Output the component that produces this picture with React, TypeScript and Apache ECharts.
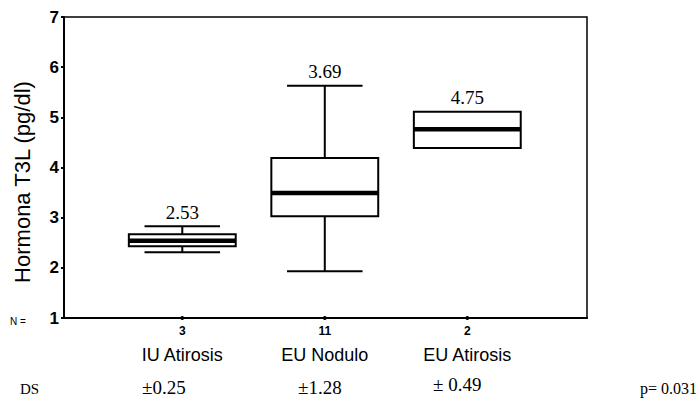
import React, { useEffect, useRef } from "react";
import * as echarts from "echarts";

const categories = ["IU Atirosis", "EU Nodulo", "EU Atirosis"];
const positions = [1, 2, 3];
const mins = [2.31, 1.93, 4.39];
const q1s = [2.43, 3.03, 4.39];
const medians = [2.54, 3.49, 4.76];
const q3s = [2.67, 4.19, 5.11];
const maxs = [2.83, 5.63, 5.11];
const meanLabels = ["2.53", "3.69", "4.75"];
const counts = ["3", "11", "2"];
const sdLabels = ["±0.25", "±1.28", "± 0.49"];
const pValue = "p= 0.031";
const yTicks = [1, 7];
const yTitle = "Hormona T3L (pg/dl)";

const SANS = "Liberation Sans, Arial, sans-serif";
const SERIF = "Liberation Serif, Times New Roman, serif";

export default function App() {
  const ref = useRef<HTMLDivElement>(null);
  useEffect(() => {
    if (!ref.current) return;
    const chart = echarts.init(ref.current, null, { renderer: "svg" });
    const data = positions.map((p, i) => [p, mins[i], q1s[i], medians[i], q3s[i], maxs[i]]);
    const renderItem = (params: any, api: any) => {
      const i = params.dataIndex;
      const x = api.value(0);
      const c = (v: number) => api.coord([x, v]);
      const halfBox = api.size([0.375, 0])[0];
      const halfCap = api.size([0.265, 0])[0];
      const pMin = c(api.value(1));
      const pQ1 = c(api.value(2));
      const pMed = c(api.value(3));
      const pQ3 = c(api.value(4));
      const pMax = c(api.value(5));
      const base = c(yTicks[0]);
      const cx = pMed[0];
      const stroke = { stroke: "#000", lineWidth: 2, fill: "none" };
      const children: any[] = [];
      if (pMax[1] < pQ3[1] - 0.5) {
        children.push({ type: "line", shape: { x1: cx, y1: pMax[1], x2: cx, y2: pQ3[1] }, style: stroke });
        children.push({ type: "line", shape: { x1: cx - halfCap, y1: pMax[1], x2: cx + halfCap, y2: pMax[1] }, style: stroke });
      }
      if (pMin[1] > pQ1[1] + 0.5) {
        children.push({ type: "line", shape: { x1: cx, y1: pQ1[1], x2: cx, y2: pMin[1] }, style: stroke });
        children.push({ type: "line", shape: { x1: cx - halfCap, y1: pMin[1], x2: cx + halfCap, y2: pMin[1] }, style: stroke });
      }
      children.push({
        type: "rect",
        shape: { x: cx - halfBox, y: pQ3[1], width: halfBox * 2, height: pQ1[1] - pQ3[1] },
        style: { stroke: "#000", lineWidth: 2, fill: "#fff" },
      });
      children.push({
        type: "line",
        shape: { x1: cx - halfBox, y1: pMed[1], x2: cx + halfBox, y2: pMed[1] },
        style: { stroke: "#000", lineWidth: 4.5 },
      });
      children.push({
        type: "text",
        style: {
          text: meanLabels[i], x: cx, y: pMax[1] - 14, align: "center", verticalAlign: "middle",
          font: "19px " + SERIF, fill: "#000",
        },
      });
      children.push({ type: "circle", shape: { cx, cy: base[1], r: 2 }, style: { fill: "#000" } });
      children.push({
        type: "text",
        style: {
          text: counts[i], x: cx, y: base[1] + 13, align: "center", verticalAlign: "middle",
          font: "bold 12px " + SANS, fill: "#000",
        },
      });
      children.push({
        type: "text",
        style: {
          text: categories[i], x: cx, y: base[1] + 37, align: "center", verticalAlign: "middle",
          font: "18px " + SANS, fill: "#000",
        },
      });
      return { type: "group", children };
    };
    chart.setOption({
      animation: false,
      grid: { left: 64, right: 113, top: 17, bottom: 82, show: true, borderColor: "#000", borderWidth: 1.5 },
      xAxis: {
        type: "value", min: 0.17, max: 3.84,
        axisLine: { show: true, onZero: false, lineStyle: { color: "#000", width: 2 } },
        axisTick: { show: false }, axisLabel: { show: false }, splitLine: { show: false },
      },
      yAxis: {
        type: "value", min: yTicks[0], max: yTicks[1], interval: 1,
        axisLine: { show: true, lineStyle: { color: "#000", width: 2 } },
        axisTick: { show: true, length: 3, lineStyle: { color: "#000", width: 2 } },
        axisLabel: { fontFamily: SANS, fontSize: 17, fontWeight: "bold", color: "#000", margin: 5 },
        splitLine: { show: false },
      },
      series: [{ type: "custom", renderItem, data, clip: false }],
      graphic: [
        {
          type: "text", x: 22, y: 182, rotation: Math.PI / 2,
          style: { text: yTitle, font: "22px " + SANS, fill: "#000", align: "center", verticalAlign: "middle" },
        },
        { type: "text", left: 10, top: 316, style: { text: "N =", font: "10px " + SANS, fill: "#000" } },
        { type: "text", left: 20, top: 381, style: { text: "DS", font: "15px " + SERIF, fill: "#000" } },
        { type: "text", left: 142, top: 378, style: { text: sdLabels[0], font: "19px " + SERIF, fill: "#000" } },
        { type: "text", left: 298, top: 378, style: { text: sdLabels[1], font: "19px " + SERIF, fill: "#000" } },
        { type: "text", left: 433, top: 375, style: { text: sdLabels[2], font: "19px " + SERIF, fill: "#000" } },
        { type: "text", left: 640, top: 380, style: { text: pValue, font: "16px " + SERIF, fill: "#000" } },
      ],
    });
    return () => chart.dispose();
  }, []);
  return (
    <div ref={ref} style={{ position: "absolute", left: 0, top: 0, width: 700, height: 400, background: "#fff" }} />
  );
}
